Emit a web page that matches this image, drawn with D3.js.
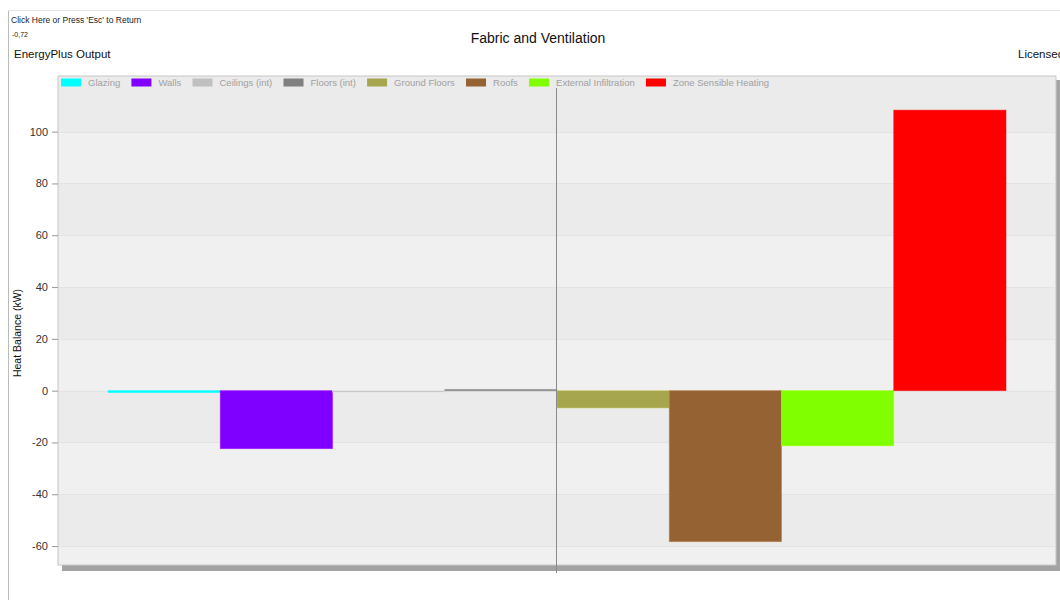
<!DOCTYPE html>
<html><head><meta charset="utf-8">
<script src="https://cdn.jsdelivr.net/npm/d3@7"></script>
<style>html,body{margin:0;padding:0;background:#fff;overflow:hidden;}svg{display:block;font-family:"Liberation Sans",Arial,sans-serif;}</style>
</head><body>
<svg id="c" width="1060" height="600"></svg>
<script>
const categories = ["Glazing","Walls","Ceilings (int)","Floors (int)","Ground Floors","Roofs","External Infiltration","Zone Sensible Heating"];
const values = [-0.72, -22.4, -0.3, 0.5, -6.7, -58.3, -21.3, 108.3];
const colors = ["#00ffff","#8000ff","#c0c0c0","#808080","#a6a64f","#956233","#80ff00","#ff0000"];
const yTicks = [-60,-40,-20,0,20,40,60,80,100];
const yDomain = [-67, 116.5];

const svg = d3.select("#c");
const frame = {l:58, r:1056, t:76, b:565};
const x = d3.scaleBand().domain(categories).range([108, 1006]).padding(0);
const y = d3.scaleLinear().domain(yDomain).range([564.2, 88.9]);

// window chrome
svg.append("line").attr("x1",8.5).attr("x2",8.5).attr("y1",10).attr("y2",600).attr("stroke","#bbb");
svg.append("line").attr("x1",8).attr("x2",1060).attr("y1",10.5).attr("y2",10.5).attr("stroke","#e4e4e4");
svg.append("text").attr("x",11).attr("y",23).attr("font-size",8.5).attr("fill","#222").text("Click Here or Press 'Esc' to Return");
svg.append("text").attr("x",12).attr("y",37).attr("font-size",7).attr("fill","#222").text("-0,72");
svg.append("text").attr("x",14).attr("y",58).attr("font-size",11.5).attr("fill","#111").text("EnergyPlus Output");
svg.append("text").attr("x",1018).attr("y",58).attr("font-size",11.5).attr("fill","#111").text("Licensed");
svg.append("text").attr("x",538).attr("y",43).attr("text-anchor","middle").attr("font-size",14).attr("fill","#111").text("Fabric and Ventilation");

// shadow + frame
svg.append("rect").attr("x",frame.l+4).attr("y",frame.t+4).attr("width",frame.r-frame.l).attr("height",frame.b-frame.t+2).attr("fill","#a3a3a3");
svg.append("rect").attr("x",frame.l).attr("y",frame.t).attr("width",frame.r-frame.l).attr("height",frame.b-frame.t).attr("fill","#ebebeb").attr("stroke","#c8c8c8");

// alternating bands
const bandEdges = [yDomain[0], ...yTicks, yDomain[1]];
const g = svg.append("g");
for (let i=0;i<bandEdges.length-1;i++){
  const lo = bandEdges[i], hi = bandEdges[i+1];
  const k = Math.floor(((lo+hi)/2)/20);
  g.append("rect").attr("x",frame.l+1).attr("width",frame.r-frame.l-2)
    .attr("y",y(hi)).attr("height",y(lo)-y(hi))
    .attr("fill", (k%2===0) ? "#f0f0f0" : "#ebebeb");
}
// gridlines
g.selectAll("line.grid").data(yTicks).enter().append("line")
  .attr("x1",frame.l+1).attr("x2",frame.r-1).attr("y1",d=>Math.round(y(d))+0.5).attr("y2",d=>Math.round(y(d))+0.5)
  .attr("stroke","#e3e3e3");

// y axis
const yAxis = d3.axisLeft(y).tickValues(yTicks).tickSize(6).tickPadding(4).tickFormat(d=>String(d));
const ya = svg.append("g").attr("transform",`translate(${frame.l},0)`).call(yAxis);
ya.select(".domain").remove();
ya.selectAll("line").attr("stroke","#999");
ya.selectAll("text").attr("font-size",11).attr("fill","#333").attr("font-family","Liberation Sans, Arial, sans-serif");
svg.append("text").attr("transform","translate(21,333) rotate(-90)").attr("text-anchor","middle")
  .attr("font-size",10.5).attr("fill","#111").text("Heat Balance (kW)");

// bars
const data = categories.map((c,i)=>({c, v:values[i], col:colors[i]}));
svg.append("g").selectAll("rect").data(data).enter().append("rect")
  .attr("x",d=>x(d.c)).attr("width",x.bandwidth())
  .attr("y",d=>Math.min(y(d.v),y(0)))
  .attr("height",d=>Math.max(1.5,Math.abs(y(d.v)-y(0))))
  .attr("fill",d=>d.col)
  .attr("stroke",d=>d3.color(d.col).brighter(0.6)).attr("stroke-width",0.8).attr("stroke-opacity",0.6);

// crosshair line at category boundary
const cx = Math.round(x("Ground Floors"))-0.5;
svg.append("line").attr("x1",cx).attr("x2",cx).attr("y1",88).attr("y2",573).attr("stroke","#8a8a8a").attr("stroke-width",1);

// legend
const lg = svg.append("g").attr("font-size",9.5).attr("fill","#a0a0a0");
let lx = 61;
categories.forEach((c,i)=>{
  lg.append("rect").attr("x",lx).attr("y",78.5).attr("width",20).attr("height",8).attr("fill",colors[i]);
  const t = lg.append("text").attr("x",lx+27).attr("y",86).attr("fill","#a0a0a0").text(c);
  const w = t.node().getComputedTextLength();
  lx = lx + 27 + w + 11.2;
});
</script>
</body></html>
